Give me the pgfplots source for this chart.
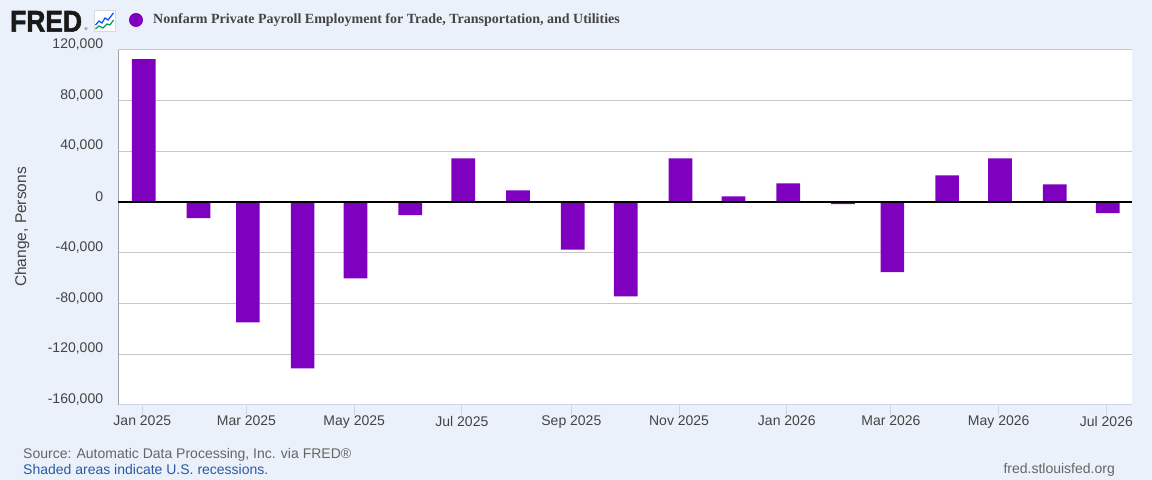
\documentclass[border=0pt]{standalone}
\usepackage{pgfplots}
\pgfplotsset{compat=1.18}
\usepackage{fontspec}
\setmainfont{Liberation Sans}
\newfontfamily\titlefont{Liberation Serif}
\newfontfamily\logofont{Liberation Sans}[BoldFeatures={FakeBold=2}]
\definecolor{bgc}{HTML}{EAF1FA}
\definecolor{barc}{HTML}{7F00BF}
\definecolor{gridc}{HTML}{C8C8C8}
\definecolor{xaxc}{HTML}{CCD6EB}
\definecolor{yaxc}{HTML}{A0A0A0}
\definecolor{txtc}{HTML}{444444}
\definecolor{linkc}{HTML}{2C5AA0}
\begin{document}
\begin{tikzpicture}[x=1bp,y=1bp]
\useasboundingbox (0,0) rectangle (1152,480);
\fill[bgc] (0,0) rectangle (1152,480);
% header
\node[anchor=base west, inner sep=0pt, font=\logofont\fontsize{30bp}{30bp}\selectfont\bfseries, text={black!90}, xscale=0.88] at (10,448.3) {FRED};
\node[anchor=base west, inner sep=0pt, font=\fontsize{4bp}{4bp}\selectfont, text={black!90}] at (84.5,449) {\textregistered};
\filldraw[fill=white, draw=black!15, line width=0.6bp] (94,449) rectangle (115,470);
\draw[blue!70!cyan, line width=1.2bp] (95.5,455) -- (99,459) -- (102,457) -- (105,462) -- (108,460) -- (113.5,467);
\draw[teal!80!green, line width=1.2bp] (95.5,451) -- (99,454) -- (103,452) -- (107,456) -- (110,455) -- (113.5,460);
\fill[barc] (136,460) circle (7);
\node[anchor=west, inner sep=0pt, font=\titlefont\fontsize{14bp}{14bp}\selectfont\bfseries, text=txtc] at (153,460) {Nonfarm Private Payroll Employment for Trade, Transportation, and Utilities};
% y label
\node[rotate=90, inner sep=0pt, font=\fontsize{15.5bp}{15.5bp}\selectfont, text=txtc] at (22,253) {Change, Persons};
% footer
\node[anchor=west, inner sep=0pt, font=\fontsize{14bp}{14bp}\selectfont, text={black!60}] at (23,25) {Source: Automatic Data Processing, Inc. via FRED\textregistered};
\node[anchor=west, inner sep=0pt, font=\fontsize{14bp}{14bp}\selectfont, text=linkc] at (23,10) {Shaded areas indicate U.S. recessions.};
\node[anchor=east, inner sep=0pt, font=\fontsize{14bp}{14bp}\selectfont, text={black!60}] at (1115,10) {fred.stlouisfed.org};
\begin{axis}[
  at={(118.3bp,75bp)}, anchor=south west,
  width=1013.7bp, height=355bp, scale only axis,
  xmin=-13.59, xmax=560.5,
  ymin=-160000, ymax=120000,
  scaled y ticks=false, scaled x ticks=false,
  axis x line*=bottom, axis y line*=left,
  x axis line style={-, draw=xaxc, line width=1bp},
  y axis line style={-, draw=yaxc, line width=1bp},
  xtick={0,59,120,181,243,304,365,424,485,546},
  xticklabels={Jan 2025,Mar 2025,May 2025,Jul 2025,Sep 2025,Nov 2025,Jan 2026,Mar 2026,May 2026,Jul 2026},
  ytick={-160000,-120000,-80000,-40000,0,40000,80000,120000},
  yticklabels={{-160,000},{-120,000},{-80,000},{-40,000},{0},{40,000},{80,000},{120,000}},
  tick align=outside,
  major tick length=10bp,
  x tick style={draw=xaxc, line width=1bp},
  y tick style={draw=none},
  ymajorgrids,
  grid style={draw=gridc, line width=1bp},
  tick label style={font=\fontsize{14bp}{14bp}\selectfont, text=txtc},
  yticklabel style={anchor=east, inner sep=0pt, xshift=-5bp, yshift=5.5bp},
  xticklabel style={inner sep=0pt, yshift=-1bp},
  axis background/.style={fill=white},
  clip=false,
]
\addplot[ybar, bar width=23.7bp, bar shift=1.4bp, fill=barc, draw=none] coordinates {
(0,112800) (31,-12650) (59,-94900) (90,-131200) (120,-60100) (151,-10300)
(181,34500) (212,9200) (243,-37400) (273,-74300) (304,34500) (334,4500)
(365,14750) (396,-1600) (424,-55300) (455,21100) (485,34500) (516,14000) (546,-8700)
};
\addplot[black, line width=1.6bp, sharp plot, mark=none] coordinates {(-13.59,0) (560.5,0)};
\end{axis}
\end{tikzpicture}
\end{document}
